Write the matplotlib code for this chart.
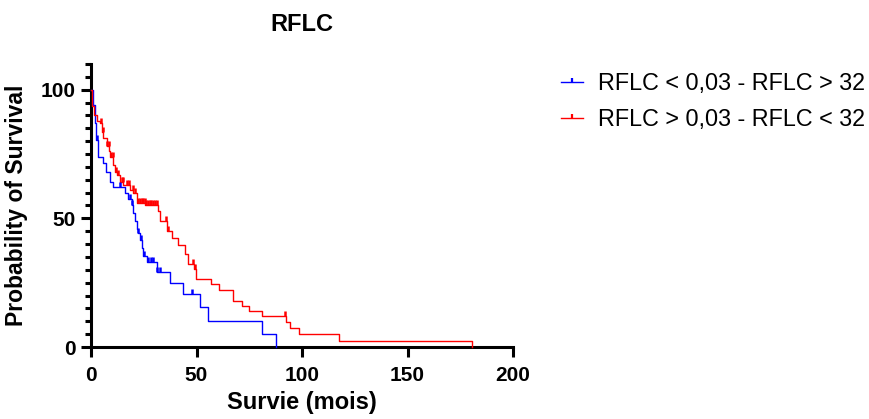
import numpy as np
import matplotlib
matplotlib.use("Agg")
import matplotlib.pyplot as plt
from matplotlib.path import Path
from matplotlib.lines import Line2D

# ---- data ----
blue_label = "RFLC < 0,03 - RFLC > 32"
red_label = "RFLC > 0,03 - RFLC < 32"

blue_times = [0, 0.8, 1.9, 2.6, 3.5, 5.8, 7.0, 9.0, 10.6, 16.1, 17.5, 19.3, 19.9, 20.9,
              21.8, 22.3, 23.2, 24.0, 24.8, 26.4, 31.1, 37.4, 43.7, 51.7, 55.6, 80.9, 87.7]
blue_surv = [100, 94.2, 87, 80.5, 74, 71.5, 68, 64.3, 62, 59.8, 57.5, 55, 52, 49,
             46, 44.5, 41.5, 38.5, 35.5, 33, 29.3, 24.8, 20.6, 15.4, 10.2, 5.1, 0]
blue_censor = [2.7, 13.7, 18.5, 19.6, 22.5, 23.6, 25.2, 26.8, 28.2, 29.5, 31.5, 32.5, 47.7]

red_times = [0, 0.3, 1.4, 2.7, 4.3, 5.1, 5.8, 7.4, 8.5, 9.0, 10.6, 11.4, 12.2, 13.7, 15.3,
             18.5, 20.0, 21.7, 25.6, 31.9, 32.7, 35.9, 38.2, 41.4, 44.5, 46.1, 48.8, 49.8,
             56.7, 60.8, 67.2, 71.4, 74.9, 80.9, 92.4, 94.3, 98.7, 117.7, 180.7]
red_surv = [100, 93.5, 90.3, 87.7, 87.0, 83.7, 81.2, 78, 76, 74, 70.8, 68.2, 67, 64.3, 63,
            61, 59.8, 56, 55, 52.7, 48.8, 44.9, 42.3, 39.5, 36, 32.4, 30.2, 26.3,
            24.4, 22.2, 18, 16, 14, 12.2, 9.8, 7.5, 5.1, 2.5, 0]
red_censor = [4.6, 5.5, 7.8, 8.3, 9.5, 10.2, 12.0, 12.8, 14.5, 15.0, 17.2, 17.9, 19.8,
              20.8, 22.4, 23.2, 24.0, 24.8, 25.4, 26.2, 27.0, 27.8, 28.5, 29.5, 30.5,
              31.3, 35.5, 36.5, 48.3, 49.3, 92.0]

title = "RFLC"
xlabel = "Survie (mois)"
ylabel = "Probability of Survival"
xticks = [0, 50, 100, 150, 200]
yticks = [0, 50, 100]

BLUE = "#0000FF"
RED = "#FF0000"

plt.rcParams['font.family'] = ['Liberation Sans', 'DejaVu Sans']

tick_marker = Path([(0, 0), (0, 1)], [Path.MOVETO, Path.LINETO])


def step_value(times, surv, t):
    idx = np.searchsorted(times, t, side='right') - 1
    return np.asarray(surv)[idx]


fig = plt.figure(figsize=(8.69, 4.19), dpi=100)
ax = fig.add_axes([91 / 869, 1 - 347 / 419, (513 - 91) / 869, (347 - 64) / 419])

for times, surv, cens, col in [(blue_times, blue_surv, blue_censor, BLUE),
                               (red_times, red_surv, red_censor, RED)]:
    ax.step(times, surv, where='post', color=col, lw=1.0, clip_on=False, zorder=3)
    cy = step_value(np.array(times), surv, np.array(cens))
    ax.plot(cens, cy, linestyle='none', marker=tick_marker, markersize=7,
            markeredgewidth=1.8, color=col, clip_on=False, zorder=4)

ax.set_xlim(0, 200)
ax.set_ylim(0, 110)
ax.set_xticks(xticks)
ax.set_yticks(yticks)
ax.set_yticks(np.arange(0, 111, 5), minor=True)
ax.set_xticklabels([str(v) for v in xticks], fontsize=15, fontweight='bold')
ax.set_yticklabels([str(v) for v in yticks], fontsize=15, fontweight='bold')

for s in ['top', 'right']:
    ax.spines[s].set_visible(False)
for s in ['left', 'bottom']:
    ax.spines[s].set_linewidth(2.2)
ax.tick_params(axis='both', which='major', direction='out', length=7, width=2.2, pad=4)
ax.tick_params(axis='x', which='major', pad=7)
ax.tick_params(axis='y', which='minor', direction='out', length=4.5, width=2.2)
ax.tick_params(axis='x', which='minor', length=0)

ax.set_xlabel(xlabel, fontsize=17, fontweight='bold', labelpad=4)
ax.set_ylabel(ylabel, fontsize=16.5, fontweight='bold', labelpad=9)
ax.set_title(title, fontsize=17, fontweight='bold', pad=24)

handles = [Line2D([], [], color=BLUE, lw=1.0, marker=tick_marker, markersize=6,
                  markeredgewidth=1.6),
           Line2D([], [], color=RED, lw=1.0, marker=tick_marker, markersize=6,
                  markeredgewidth=1.6)]
fig.legend(handles, [blue_label, red_label], loc='upper left',
           bbox_to_anchor=(561 / 869, 1 - 72 / 419), frameon=False, fontsize=16.8,
           handlelength=0.95, handletextpad=0.65, labelspacing=0.55, numpoints=1,
           borderaxespad=0, borderpad=0)

fig.savefig("out.png", dpi=100)
